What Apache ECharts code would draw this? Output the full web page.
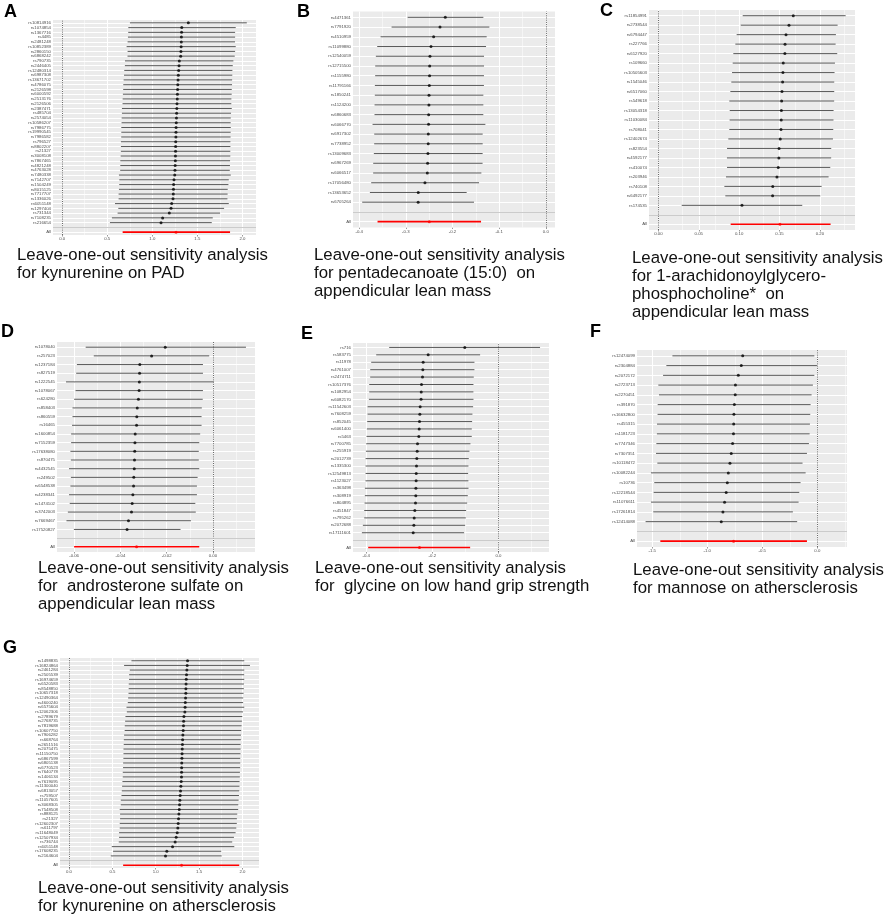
<!DOCTYPE html>
<html>
<head>
<meta charset="utf-8">
<script src="https://cdn.jsdelivr.net/npm/echarts@6/dist/echarts.min.js"></script>
<style>
  html, body { margin: 0; background: #fff; }
  #chart { width: 886px; height: 918px; }
</style>
</head>
<body>
<div id="chart"></div>
<script>
// A: kynurenine on PAD  (rows listed top to bottom)
var aSnp = ["rs10814916", "rs1074854", "rs1367716", "rs4485", "rs2481248", "rs10852389", "rs2860150", "rs6868242",
  "rs790735", "rs2446405", "rs12480314", "rs6987308", "rs13671702", "rs4786075", "rs2126598", "rs6000592",
  "rs2513176", "rs2126506", "rs2387471", "rs485704", "rs2574054", "rs10586207", "rs7986775", "rs19990545",
  "rs7986582", "rs796527", "rs8802207", "rs21327", "rs3008108", "rs7867465", "rs4821248", "rs4763028",
  "rs7480338", "rs7142707", "rs1504249", "rs8015125", "rs7717707", "rs1336026", "rs6051148", "rs1297404",
  "rs731344", "rs7108235", "rs216654"];
var aB = [1.400, 1.327, 1.325, 1.323, 1.322, 1.320, 1.318, 1.315, 1.300, 1.297, 1.293, 1.289, 1.286, 1.283, 1.281,
  1.279, 1.277, 1.274, 1.272, 1.270, 1.268, 1.266, 1.264, 1.263, 1.262, 1.260, 1.259, 1.258, 1.257, 1.256, 1.254,
  1.252, 1.249, 1.241, 1.237, 1.235, 1.233, 1.230, 1.215, 1.208, 1.189, 1.115, 1.097];
var aLo = [0.752, 0.734, 0.733, 0.730, 0.726, 0.715, 0.726, 0.725, 0.697, 0.696, 0.689, 0.686, 0.682, 0.678, 0.677,
  0.674, 0.671, 0.670, 0.663, 0.663, 0.660, 0.659, 0.656, 0.656, 0.655, 0.652, 0.652, 0.651, 0.649, 0.645, 0.645,
  0.644, 0.630, 0.634, 0.633, 0.630, 0.626, 0.626, 0.586, 0.623, 0.615, 0.552, 0.530];
var aHi = [2.049, 1.926, 1.919, 1.919, 1.918, 1.926, 1.919, 1.915, 1.900, 1.893, 1.889, 1.888, 1.886, 1.885, 1.882,
  1.881, 1.878, 1.877, 1.882, 1.874, 1.871, 1.870, 1.871, 1.870, 1.869, 1.867, 1.867, 1.866, 1.866, 1.863, 1.862,
  1.860, 1.871, 1.849, 1.845, 1.837, 1.836, 1.834, 1.849, 1.797, 1.752, 1.671, 1.660];
var aAll = [1.263, 0.671, 1.863];
var aTicks = [0, 0.5, 1, 1.5, 2];
var aMinor = [0.25, 0.75, 1.25, 1.75];

// B: pentadecanoate (15:0) on appendicular lean mass
var bSnp = ["rs4471361", "rs7791920", "rs4510959", "rs11099880", "rs12540059", "rs12715500", "rs1155980",
  "rs11791166", "rs1850241", "rs1124200", "rs6860683", "rs6066770", "rs6917302", "rs7738952", "rs13009683",
  "rs6967269", "rs6066517", "rs17056480", "rs13653652", "rs6705264"];
var bB = [-0.2154, -0.2268, -0.2404, -0.2461, -0.2483, -0.2489, -0.2491, -0.2497, -0.2503, -0.2505, -0.2510,
  -0.2512, -0.2518, -0.2520, -0.2526, -0.2533, -0.2540, -0.2590, -0.2733, -0.2735];
var bLo = [-0.2962, -0.3305, -0.3541, -0.3613, -0.3642, -0.3656, -0.3657, -0.3663, -0.3664, -0.3670, -0.3671,
  -0.3713, -0.3677, -0.3678, -0.3685, -0.3699, -0.3700, -0.3742, -0.3770, -0.3935];
var bHi = [-0.1338, -0.1210, -0.1267, -0.1281, -0.1324, -0.1324, -0.1325, -0.1326, -0.1338, -0.1338, -0.1339,
  -0.1295, -0.1353, -0.1353, -0.1354, -0.1355, -0.1381, -0.1431, -0.1696, -0.1539];
var bAll = [-0.2497, -0.3606, -0.1388];
var bTicks = [-0.4, -0.3, -0.2, -0.1, 0];
var bMinor = [-0.35, -0.25, -0.15, -0.05];

// C: 1-arachidonoylglycerophosphocholine* on appendicular lean mass
var cSnp = ["rs11854991", "rs2738544", "rs6794447", "rs227766", "rs6127920", "rs109660", "rs10505603",
  "rs1545046", "rs6517060", "rs549618", "rs13054318", "rs11030084", "rs708041", "rs12402674", "rs823554",
  "rs4592177", "rs410074", "rs203946", "rs740108", "rs6492177", "rs174535"];
var cB = [0.1670, 0.1617, 0.1580, 0.1568, 0.1566, 0.1546, 0.1542, 0.1538, 0.1530, 0.1526, 0.1523, 0.1521,
  0.1518, 0.1509, 0.1494, 0.1492, 0.1484, 0.1468, 0.1416, 0.1414, 0.1035];
var cLo = [0.1044, 0.1019, 0.0969, 0.0953, 0.0928, 0.0920, 0.0912, 0.0903, 0.0891, 0.0878, 0.0883, 0.0882,
  0.0878, 0.0866, 0.0850, 0.0849, 0.0850, 0.0837, 0.0817, 0.0829, 0.0289];
var cHi = [0.2318, 0.2219, 0.2198, 0.2194, 0.2214, 0.2186, 0.2181, 0.2177, 0.2177, 0.2176, 0.2169, 0.2168,
  0.2165, 0.2161, 0.2140, 0.2139, 0.2128, 0.2107, 0.2021, 0.2004, 0.1781];
var cAll = [0.1505, 0.0895, 0.2132];
var cTicks = [0, 0.05, 0.1, 0.15, 0.2];
var cMinor = [0.025, 0.075, 0.125, 0.175, 0.225];

// D: androsterone sulfate on appendicular lean mass
var dSnp = ["rs1078040", "rs257023", "rs1237184", "rs827519", "rs1222545", "rs1078067", "rs624280", "rs858403",
  "rs860559", "rs16465", "rs1600854", "rs7152359", "rs17638080", "rs870475", "rs4432545", "rs249502",
  "rs6548538", "rs4238341", "rs1474102", "rs3742003", "rs7669467", "rs17520827"];
var dB = [-0.0206, -0.0265, -0.0316, -0.0317, -0.0318, -0.0319, -0.0322, -0.0327, -0.0329, -0.0330, -0.0336,
  -0.0337, -0.0338, -0.0339, -0.0340, -0.0342, -0.0343, -0.0346, -0.0349, -0.0352, -0.0365, -0.0371];
var dLo = [-0.0550, -0.0515, -0.0588, -0.0591, -0.0635, -0.0594, -0.0600, -0.0607, -0.0607, -0.0609, -0.0613,
  -0.0613, -0.0616, -0.0614, -0.0622, -0.0614, -0.0616, -0.0622, -0.0619, -0.0627, -0.0633, -0.0601];
var dHi = [0.0143, -0.0016, -0.0043, -0.0043, 0.0003, -0.0043, -0.0044, -0.0048, -0.0049, -0.0049, -0.0055,
  -0.0059, -0.0061, -0.0061, -0.0059, -0.0066, -0.0069, -0.0069, -0.0076, -0.0074, -0.0095, -0.0140];
var dAll = [-0.0330, -0.0600, -0.0059];
var dTicks = [-0.06, -0.04, -0.02, 0];
var dMinor = [-0.05, -0.03, -0.01, 0.01];

// E: glycine on low hand grip strength
var eSnp = ["rs716", "rs583775", "rs11978", "rs4761007", "rs2474711", "rs10517376", "rs1082954", "rs6082170",
  "rs11542603", "rs7608259", "rs852045", "rs6061400", "rs5463", "rs7700785", "rs255919", "rs2012739",
  "rs1335300", "rs12549813", "rs1123027", "rs363498", "rs308919", "rs804895", "rs451847", "rs795262",
  "rs2072688", "rs17111601"];
var eB = [-0.1018, -0.2126, -0.2277, -0.2287, -0.2297, -0.2327, -0.2336, -0.2340, -0.2368, -0.2378, -0.2388,
  -0.2398, -0.2408, -0.2448, -0.2458, -0.2469, -0.2479, -0.2487, -0.2490, -0.2497, -0.2500, -0.2509, -0.2529,
  -0.2549, -0.2559, -0.2579];
var eLo = [-0.3305, -0.3698, -0.3849, -0.3879, -0.3880, -0.3909, -0.3910, -0.3919, -0.3960, -0.3961, -0.3970,
  -0.3980, -0.3990, -0.4000, -0.4010, -0.4020, -0.4021, -0.4019, -0.4022, -0.4040, -0.4041, -0.4050, -0.4060,
  -0.4061, -0.4101, -0.4131];
var eHi = [0.1259, -0.0554, -0.0725, -0.0726, -0.0746, -0.0756, -0.0757, -0.0755, -0.0766, -0.0786, -0.0796,
  -0.0806, -0.0807, -0.0846, -0.0877, -0.0897, -0.0907, -0.0917, -0.0908, -0.0906, -0.0927, -0.0947, -0.0977,
  -0.0987, -0.1008, -0.1038];
var eAll = [-0.2388, -0.3940, -0.0856];
var eTicks = [-0.4, -0.2, 0];
var eMinor = [-0.3, -0.1, 0.1];

// F: mannose on athersclerosis
var fSnp = ["rs12474099", "rs2304884", "rs2072172", "rs2723713", "rs2270451", "rs391870", "rs16632800",
  "rs455315", "rs1181723", "rs7747346", "rs7307351", "rs10118472", "rs10082244", "rs10736", "rs12218544",
  "rs11076611", "rs17261814", "rs12414088"];
var fB = [-0.678, -0.691, -0.718, -0.744, -0.746, -0.754, -0.758, -0.760, -0.762, -0.770, -0.782, -0.794,
  -0.809, -0.818, -0.828, -0.843, -0.858, -0.873];
var fLo = [-1.317, -1.372, -1.402, -1.445, -1.439, -1.451, -1.452, -1.457, -1.458, -1.463, -1.466, -1.454,
  -1.512, -1.482, -1.488, -1.512, -1.491, -1.561];
var fHi = [-0.027, -0.003, -0.027, -0.040, -0.052, -0.061, -0.064, -0.067, -0.070, -0.076, -0.094, -0.134,
  -0.106, -0.152, -0.164, -0.170, -0.222, -0.183];
var fAll = [-0.761, -1.427, -0.094];
var fTicks = [-1.5, -1, -0.5, 0];
var fMinor = [-1.25, -0.75, -0.25, 0.25];

// G: kynurenine on athersclerosis
var gSnp = ["rs1498835", "rs16824864", "rs2461284", "rs2505539", "rs16974659", "rs6520583", "rs8548850",
  "rs10657318", "rs12490364", "rs4600240", "rs6575604", "rs12062306", "rs2789679", "rs2768735", "rs7819688",
  "rs10607750", "rs7906282", "rs668764", "rs2651516", "rs2075475", "rs11150750", "rs6867599", "rs6805138",
  "rs6770523", "rs7640778", "rs1406134", "rs7619095", "rs11300040", "rs6813057", "rs759507", "rs11057605",
  "rs3068305", "rs7548508", "rs888125", "rs21327", "rs12602307", "rs611797", "rs11648049", "rs12507934",
  "rs736744", "rs6051148", "rs17608235", "rs2164604"];
var gB = [1.367, 1.363, 1.359, 1.355, 1.352, 1.350, 1.348, 1.347, 1.344, 1.341, 1.339, 1.336, 1.325, 1.322,
  1.320, 1.317, 1.313, 1.310, 1.308, 1.306, 1.304, 1.302, 1.300, 1.299, 1.298, 1.297, 1.294, 1.290, 1.286, 1.282,
  1.278, 1.275, 1.271, 1.267, 1.263, 1.259, 1.255, 1.248, 1.236, 1.224, 1.194, 1.128, 1.113];
var gLo = [0.720, 0.635, 0.701, 0.693, 0.692, 0.689, 0.688, 0.686, 0.682, 0.678, 0.663, 0.667, 0.651, 0.647,
  0.643, 0.642, 0.635, 0.632, 0.631, 0.628, 0.628, 0.627, 0.624, 0.623, 0.620, 0.620, 0.616, 0.612, 0.609, 0.605,
  0.597, 0.597, 0.585, 0.589, 0.589, 0.585, 0.585, 0.577, 0.577, 0.574, 0.493, 0.508, 0.482];
var gHi = [2.021, 2.087, 2.021, 2.020, 2.021, 2.017, 2.016, 2.013, 2.009, 2.008, 2.021, 2.006, 1.998, 1.994,
  1.990, 1.986, 1.983, 1.982, 1.979, 1.979, 1.978, 1.975, 1.975, 1.974, 1.971, 1.970, 1.967, 1.966, 1.963, 1.960,
  1.956, 1.952, 1.951, 1.940, 1.936, 1.935, 1.929, 1.921, 1.902, 1.882, 1.906, 1.755, 1.760];
var gAll = [1.298, 0.624, 1.963];
var gTicks = [0, 0.5, 1, 1.5, 2];
var gMinor = [0.25, 0.75, 1.25, 1.75];

var captions = [
  "Leave-one-out sensitivity analysis\nfor kynurenine on PAD",
  "Leave-one-out sensitivity analysis\nfor pentadecanoate (15:0)  on\nappendicular lean mass",
  "Leave-one-out sensitivity analysis\nfor 1-arachidonoylglycero-\nphosphocholine*  on\nappendicular lean mass",
  "Leave-one-out sensitivity analysis\nfor  androsterone sulfate on\nappendicular lean mass",
  "Leave-one-out sensitivity analysis\nfor  glycine on low hand grip strength",
  "Leave-one-out sensitivity analysis\nfor mannose on athersclerosis",
  "Leave-one-out sensitivity analysis\nfor kynurenine on athersclerosis"
];

var panels = [
  { tag: "A", snp: aSnp, b: aB, lo: aLo, hi: aHi, all: aAll, ticks: aTicks, minor: aMinor, digits: 1,
    min: -0.102, max: 2.151, grid: [53, 20, 203, 215], letter: [4, 3], cap: [17, 246] },
  { tag: "B", snp: bSnp, b: bB, lo: bLo, hi: bHi, all: bAll, ticks: bTicks, minor: bMinor, digits: 1,
    min: -0.4132, max: 0.0197, grid: [353, 11.5, 202, 216], letter: [297, 3], cap: [314, 246] },
  { tag: "C", snp: cSnp, b: cB, lo: cLo, hi: cHi, all: cAll, ticks: cTicks, minor: cMinor, digits: 2,
    min: -0.0116, max: 0.2434, grid: [649, 10, 206, 220], letter: [600, 2], cap: [632, 249] },
  { tag: "D", snp: dSnp, b: dB, lo: dLo, hi: dHi, all: dAll, ticks: dTicks, minor: dMinor, digits: 2,
    min: -0.0674, max: 0.0182, grid: [57, 342, 198, 210], letter: [1, 323], cap: [38, 559] },
  { tag: "E", snp: eSnp, b: eB, lo: eLo, hi: eHi, all: eAll, ticks: eTicks, minor: eMinor, digits: 1,
    min: -0.440, max: 0.153, grid: [353, 343, 196, 209], letter: [301, 325], cap: [315, 559] },
  { tag: "F", snp: fSnp, b: fB, lo: fLo, hi: fHi, all: fAll, ticks: fTicks, minor: fMinor, digits: 1,
    min: -1.639, max: 0.27, grid: [637, 350, 210, 197], letter: [590, 323], cap: [633, 561] },
  { tag: "G", snp: gSnp, b: gB, lo: gLo, hi: gHi, all: gAll, ticks: gTicks, minor: gMinor, digits: 1,
    min: -0.104, max: 2.191, grid: [60, 658, 199, 210], letter: [3, 639], cap: [38, 879] }
];

var FONT = "'Liberation Sans', Arial, sans-serif";

function barRenderer(width) {
  return function (params, api) {
    var p0 = api.coord([api.value(0), api.value(2)]);
    var p1 = api.coord([api.value(1), api.value(2)]);
    return {
      type: "line",
      shape: { x1: p0[0], y1: p0[1], x2: p1[0], y2: p1[1] },
      style: { stroke: api.visual("color"), lineWidth: width }
    };
  };
}

var grids = [], xAxes = [], yAxes = [], series = [], titles = [];

panels.forEach(function (p, i) {
  var n = p.snp.length;
  var names = ["All", ""].concat(p.snp.slice().reverse());
  var rows = names.map(function (_, k) { return k + 1; });

  grids.push({
    left: p.grid[0], top: p.grid[1], width: p.grid[2], height: p.grid[3],
    show: true, backgroundColor: "#EBEBEB", borderWidth: 0
  });

  xAxes.push({
    type: "value", gridIndex: i, min: p.min, max: p.max,
    axisLine: { show: false },
    splitLine: { show: false },
    axisTick: { customValues: p.ticks, length: 1.5, lineStyle: { color: "#333", width: 0.5 } },
    axisLabel: {
      customValues: p.ticks, fontSize: 4.3, color: "#4D4D4D", margin: 2, fontFamily: FONT,
      formatter: (function (d) { return function (v) { return v.toFixed(d); }; })(p.digits)
    }
  });

  yAxes.push({
    type: "value", gridIndex: i, min: 0.4, max: n + 2.6,
    axisLine: { show: false },
    splitLine: { show: false },
    axisTick: { customValues: rows, length: 1.5, lineStyle: { color: "#333", width: 0.5 } },
    axisLabel: {
      customValues: rows, fontSize: 4.3, color: "#4D4D4D", margin: 2, fontFamily: FONT,
      formatter: function (v) { return names[Math.round(v) - 1]; }
    }
  });

  // panel grid lines, zero line and separator (kept under the marks)
  var marks = [];
  p.minor.forEach(function (v) { marks.push({ xAxis: v, lineStyle: { color: "#fff", width: 0.5, type: "solid" } }); });
  p.ticks.forEach(function (v) { marks.push({ xAxis: v, lineStyle: { color: "#fff", width: 1, type: "solid" } }); });
  rows.forEach(function (v) { marks.push({ yAxis: v, lineStyle: { color: "#fff", width: 1, type: "solid" } }); });
  marks.push({ xAxis: 0, lineStyle: { color: "#000", width: 0.6, type: [1, 1.2] } });
  marks.push({ yAxis: 2, lineStyle: { color: "#BEBEBE", width: 0.8, type: "solid" } });

  series.push({
    type: "line", xAxisIndex: i, yAxisIndex: i, data: [], z: 1, silent: true,
    markLine: { silent: true, z: 1, symbol: ["none", "none"], label: { show: false }, animation: false, data: marks }
  });

  var bars = p.snp.map(function (_, k) { return [p.lo[k], p.hi[k], n + 2 - k]; });
  var pts = p.snp.map(function (_, k) { return [p.b[k], n + 2 - k]; });

  series.push({
    type: "custom", xAxisIndex: i, yAxisIndex: i, z: 10, silent: true,
    itemStyle: { color: "#222" }, encode: { x: [0, 1], y: 2 },
    renderItem: barRenderer(0.75), data: bars
  });
  series.push({
    type: "custom", xAxisIndex: i, yAxisIndex: i, z: 10, silent: true,
    itemStyle: { color: "#FF0000" }, encode: { x: [0, 1], y: 2 },
    renderItem: barRenderer(1.6), data: [[p.all[1], p.all[2], 1]]
  });
  series.push({
    type: "scatter", xAxisIndex: i, yAxisIndex: i, z: 11, silent: true,
    symbolSize: 3, itemStyle: { color: "#000" }, data: pts
  });
  series.push({
    type: "scatter", xAxisIndex: i, yAxisIndex: i, z: 11, silent: true,
    symbolSize: 3, itemStyle: { color: "#FF0000" }, data: [[p.all[0], 1]]
  });

  titles.push({
    text: p.tag, left: p.letter[0], top: p.letter[1], padding: 0,
    textStyle: { fontSize: 18, fontWeight: "bold", color: "#000", fontFamily: FONT }
  });
  titles.push({
    text: captions[i], left: p.cap[0], top: p.cap[1], padding: 0,
    textStyle: { fontSize: 16.8, fontWeight: "normal", color: "#111", fontFamily: FONT, lineHeight: 18 }
  });
});

var chart = echarts.init(document.getElementById("chart"));
chart.setOption({
  animation: false,
  backgroundColor: "#fff",
  title: titles,
  grid: grids,
  xAxis: xAxes,
  yAxis: yAxes,
  series: series
});
</script>
</body>
</html>
